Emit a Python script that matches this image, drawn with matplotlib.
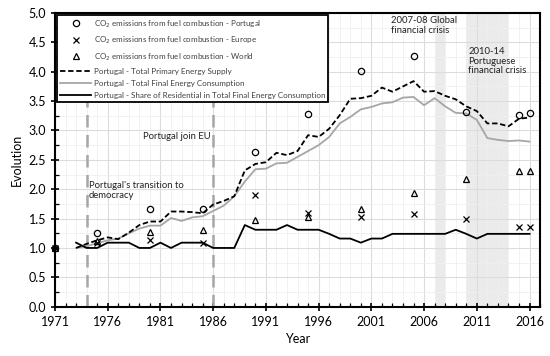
import matplotlib.pyplot as plt
from matplotlib.ticker import MultipleLocator, FixedLocator, FormatStrFormatter

plt.rcParams['font.family'] = ['Lato', 'DejaVu Sans']

# years for the energy lines
years = list(range(1973, 2017))

# Portugal - Total Primary Energy Supply (index)
tpes = [1.00, 1.07, 1.13, 1.18, 1.15, 1.26, 1.39, 1.45, 1.45, 1.62,
        1.62, 1.61, 1.59, 1.74, 1.80, 1.88, 2.32, 2.43, 2.46, 2.62,
        2.58, 2.65, 2.92, 2.89, 3.03, 3.26, 3.54, 3.55, 3.59, 3.73,
        3.66, 3.75, 3.84, 3.66, 3.67, 3.59, 3.53, 3.41, 3.33, 3.12,
        3.12, 3.07, 3.20, 3.22]

# Portugal - Total Final Energy Consumption (index)
tfec = [1.00, 1.03, 1.08, 1.13, 1.16, 1.25, 1.33, 1.38, 1.38, 1.51,
        1.46, 1.52, 1.54, 1.63, 1.72, 1.88, 2.13, 2.34, 2.35, 2.44,
        2.45, 2.55, 2.65, 2.75, 2.89, 3.12, 3.23, 3.36, 3.40, 3.46,
        3.48, 3.56, 3.57, 3.43, 3.55, 3.41, 3.30, 3.29, 3.18, 2.87,
        2.84, 2.82, 2.83, 2.81]

# Portugal - Share of Residential in TFEC (index)
share = [1.09, 1.00, 1.00, 1.09, 1.09, 1.09, 1.00, 1.00, 1.09, 1.00,
         1.09, 1.09, 1.09, 1.00, 1.00, 1.00, 1.39, 1.31, 1.31, 1.31,
         1.39, 1.31, 1.31, 1.31, 1.24, 1.16, 1.16, 1.09, 1.16, 1.16,
         1.24, 1.24, 1.24, 1.24, 1.24, 1.24, 1.31, 1.24, 1.16, 1.24,
         1.24, 1.24, 1.24, 1.24]

# CO2 emissions from fuel combustion (index)
co2_years = [1971, 1975, 1980, 1985, 1990, 1995, 2000, 2005, 2010, 2015, 2016]
co2_portugal = [1.00, 1.26, 1.66, 1.66, 2.64, 3.28, 4.02, 4.26, 3.31, 3.27, 3.29]
co2_europe = [1.00, 1.08, 1.13, 1.08, 1.91, 1.59, 1.53, 1.58, 1.50, 1.35, 1.35]
co2_world = [1.00, 1.11, 1.28, 1.30, 1.47, 1.53, 1.66, 1.93, 2.18, 2.31, 2.31]

events = [1974, 1986]
crisis_spans = [(2007, 2008), (2010, 2014)]
xticks = list(range(1971, 2017, 5))

fig = plt.figure(figsize=(5.5, 3.56), dpi=100)
ax = fig.add_axes([0.1, 0.1385, 0.882, 0.825])

for start, end in crisis_spans:
    ax.axvspan(start, end, color='#ebebeb', zorder=0, lw=0)
for ev in events:
    ax.axvline(ev, color='#a6a6a6', ls=(0, (5, 3)), lw=1.8, zorder=1)

ax.plot(co2_years, co2_portugal, 'o', mfc='none', mec='black', ms=4.5, mew=0.9,
        label='CO$_2$ emissions from fuel combustion - Portugal', zorder=4, clip_on=False)
ax.plot(co2_years, co2_europe, 'x', color='black', ms=4.5, mew=0.9,
        label='CO$_2$ emissions from fuel combustion - Europe', zorder=4, clip_on=False)
ax.plot(co2_years, co2_world, '^', mfc='none', mec='black', ms=4.5, mew=0.9,
        label='CO$_2$ emissions from fuel combustion - World', zorder=4, clip_on=False)
ax.plot(years, tpes, color='black', ls=(0, (3, 1.5)), lw=1.3,
        label='Portugal - Total Primary Energy Supply', zorder=3)
ax.plot(years, tfec, color='#a6a6a6', lw=1.3,
        label='Portugal - Total Final Energy Consumption', zorder=2)
ax.plot(years, share, color='black', lw=1.3,
        label='Portugal - Share of Residential in Total Final Energy Consumption', zorder=3)

ax.text(1974.2, 2.14, "Portugal's transition to\ndemocracy", fontsize=6.8,
        va='top', ha='left', color='#222222', linespacing=1.1)
ax.text(1985.8, 2.90, 'Portugal join EU', fontsize=6.8, va='center', ha='right',
        color='#222222')
ax.text(2002.9, 4.95, '2007-08 Global\nfinancial crisis', fontsize=6.8,
        va='top', ha='left', color='#222222', linespacing=1.1)
ax.text(2010.2, 4.42, '2010-14\nPortuguese\nfinancial crisis', fontsize=6.8,
        va='top', ha='left', color='#222222', linespacing=1.1)

ax.set_xlim(1971, 2017)
ax.set_ylim(0, 5)
ax.xaxis.set_major_locator(FixedLocator(xticks))
ax.xaxis.set_minor_locator(MultipleLocator(1))
ax.yaxis.set_major_locator(MultipleLocator(0.5))
ax.yaxis.set_minor_locator(MultipleLocator(0.25))
ax.yaxis.set_major_formatter(FormatStrFormatter('%.1f'))
ax.grid(which='major', color='#dcdcdc', lw=0.8, zorder=0)
ax.grid(which='minor', color='#efefef', lw=0.6, zorder=0)
ax.set_axisbelow(True)
ax.tick_params(which='major', direction='inout', length=6, width=1.2, labelsize=9)
ax.tick_params(which='minor', direction='in', length=3, width=0.9)
for s in ax.spines.values():
    s.set_linewidth(1.5)

ax.set_xlabel('Year', fontsize=9)
ax.set_ylabel('Evolution', fontsize=9)

leg = ax.legend(loc='upper left', bbox_to_anchor=(0.0, 1.0), fontsize=5.8,
                frameon=True, fancybox=False, edgecolor='black', framealpha=1,
                handlelength=3.8, numpoints=1, borderpad=0.35, labelspacing=0.62,
                handletextpad=0.4, borderaxespad=0.3, labelcolor='#404040')
leg.get_frame().set_linewidth(1.3)
leg.set_zorder(5)

fig.savefig('out.png', dpi=100)
